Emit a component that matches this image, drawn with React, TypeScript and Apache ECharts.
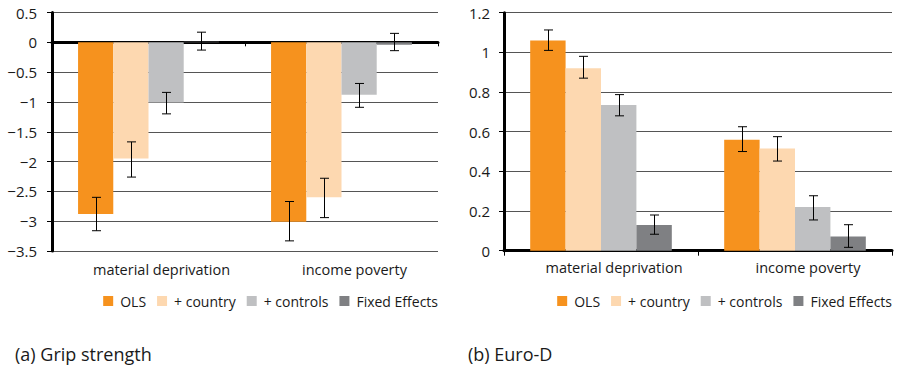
import React, { useEffect, useRef } from "react";
import * as echarts from "echarts";

const categories = ["material deprivation", "income poverty"];
const seriesNames = ["OLS", "+ country", "+ controls", "Fixed Effects"];
const colors = ["#F6921E", "#FDD8B0", "#BFC0C2", "#7F8083"];

// Panel (a) Grip strength: per series [material deprivation, income poverty]
const gripValues = [
  [-2.88, -3.01],
  [-1.95, -2.6],
  [-1.01, -0.88],
  [0.01, -0.04],
];
const gripLow = [
  [-3.16, -3.33],
  [-2.26, -2.94],
  [-1.2, -1.09],
  [-0.13, -0.14],
];
const gripHigh = [
  [-2.6, -2.67],
  [-1.67, -2.28],
  [-0.84, -0.69],
  [0.17, 0.15],
];

// Panel (b) Euro-D
const euroValues = [
  [1.06, 0.56],
  [0.92, 0.515],
  [0.735, 0.22],
  [0.13, 0.072],
];
const euroLow = [
  [1.01, 0.5],
  [0.87, 0.452],
  [0.68, 0.155],
  [0.083, 0.017],
];
const euroHigh = [
  [1.113, 0.625],
  [0.98, 0.575],
  [0.787, 0.277],
  [0.18, 0.131],
];

const captions = ["(a) Grip strength", "(b) Euro-D"];

const FONT = "'Open Sans', 'Noto Sans', sans-serif";
const TEXT = "#1a1a1a";
const GRID = "#555555";
const CAT_GAP = 0.27;

function errorData(low: number[][], high: number[][]) {
  const out: number[][] = [];
  low.forEach((row, s) => {
    row.forEach((lo, c) => {
      out.push([c, lo, high[s][c], s]);
    });
  });
  return out;
}

function renderError(params: any, api: any) {
  const c = api.value(0);
  const s = api.value(3);
  const band = api.size([1, 0])[0];
  const bw = (band * (1 - CAT_GAP)) / 4;
  const base = api.coord([c, api.value(1)]);
  const top = api.coord([c, api.value(2)]);
  const x = Math.round(base[0] + (s - 1.5) * bw) + 0.5;
  const y1 = base[1];
  const y2 = top[1];
  const cap = 4.5;
  const style = { stroke: "#000", lineWidth: 1 };
  return {
    type: "group",
    children: [
      { type: "line", shape: { x1: x, y1: y1, x2: x, y2: y2 }, style },
      { type: "line", shape: { x1: x - cap, y1: y1, x2: x + cap, y2: y1 }, style },
      { type: "line", shape: { x1: x - cap, y1: y2, x2: x + cap, y2: y2 }, style },
    ],
  };
}

function gripFormatter(v: number) {
  return String(v).replace("-", "\u2212");
}

export default function App() {
  const ref = useRef<HTMLDivElement>(null);

  useEffect(() => {
    if (!ref.current) return;
    const chart = echarts.init(ref.current, undefined, { renderer: "svg" });

    const barSeries = (values: number[][], xIdx: number, yIdx: number) =>
      values.map((vals, s) => ({
        type: "bar",
        name: seriesNames[s],
        xAxisIndex: xIdx,
        yAxisIndex: yIdx,
        data: vals,
        barGap: "0%",
        barCategoryGap: CAT_GAP * 100 + "%",
        itemStyle: { color: colors[s] },
        emphasis: { disabled: true },
      }));

    const axisLabelStyle = { fontFamily: FONT, color: TEXT };
    const catLabel = { ...axisLabelStyle, fontSize: 14.5, padding: [0, 0, 0, 26] };

    const legendBase = {
      data: seriesNames,
      top: 294,
      padding: 0,
      icon: "rect",
      itemWidth: 10,
      itemHeight: 10,
      itemGap: 11,
      textStyle: { fontFamily: FONT, fontSize: 14, color: TEXT, padding: [0, 0, 0, 2] },
      selectedMode: false,
    };

    const option: any = {
      animation: false,
      color: colors,
      grid: [
        { left: 52, right: 460, top: 12.5, bottom: 114 },
        { left: 504, right: 6, top: 12.7, bottom: 114.3 },
      ],
      xAxis: [
        {
          type: "category",
          gridIndex: 0,
          position: "bottom",
          data: categories,
          axisLine: { onZero: true, lineStyle: { color: "#000", width: 3 } },
          axisTick: { show: true, length: 4, lineStyle: { color: "#000", width: 1 } },
          axisLabel: { show: false },
          splitLine: { show: false },
        },
        {
          type: "category",
          gridIndex: 0,
          position: "bottom",
          data: categories,
          axisLine: { show: false, onZero: false },
          axisTick: { show: false },
          axisLabel: { ...catLabel, margin: 11 },
          splitLine: { show: false },
        },
        {
          type: "category",
          gridIndex: 1,
          position: "bottom",
          data: categories,
          axisLine: { onZero: true, lineStyle: { color: "#000", width: 3 } },
          axisTick: { show: true, length: 5, lineStyle: { color: "#000", width: 1 } },
          axisLabel: { ...catLabel, margin: 9 },
          splitLine: { show: false },
        },
      ],
      yAxis: [
        {
          type: "value",
          gridIndex: 0,
          min: -3.5,
          max: 0.5,
          interval: 0.5,
          axisLine: { show: true, onZero: false, lineStyle: { color: "#000", width: 3 } },
          axisTick: { show: true, length: 5, lineStyle: { color: "#000", width: 1 } },
          axisLabel: { ...axisLabelStyle, fontSize: 15, margin: 15, formatter: gripFormatter },
          splitLine: { show: true, lineStyle: { color: GRID, width: 1 } },
        },
        {
          type: "value",
          gridIndex: 1,
          min: 0,
          max: 1.2,
          interval: 0.2,
          axisLine: { show: true, onZero: false, lineStyle: { color: "#000", width: 3 } },
          axisTick: { show: true, length: 5, lineStyle: { color: "#000", width: 1 } },
          axisLabel: { ...axisLabelStyle, fontSize: 15, margin: 14 },
          splitLine: { show: true, lineStyle: { color: GRID, width: 1 } },
        },
      ],
      legend: [
        { ...legendBase, right: 460 },
        { ...legendBase, right: 6 },
      ],
      graphic: [
        {
          type: "text",
          x: 15,
          y: 354,
          style: {
            text: captions[0],
            fontFamily: FONT,
            fontSize: 18,
            fill: TEXT,
            verticalAlign: "middle",
            textVerticalAlign: "middle",
          },
        },
        {
          type: "text",
          x: 468,
          y: 354,
          style: {
            text: captions[1],
            fontFamily: FONT,
            fontSize: 18,
            fill: TEXT,
            verticalAlign: "middle",
            textVerticalAlign: "middle",
          },
        },
      ],
      series: [
        ...barSeries(gripValues, 0, 0),
        ...barSeries(euroValues, 2, 1),
        {
          type: "custom",
          name: "errA",
          xAxisIndex: 0,
          yAxisIndex: 0,
          z: 5,
          renderItem: renderError,
          encode: { x: 0, y: [1, 2] },
          data: errorData(gripLow, gripHigh),
        },
        {
          type: "custom",
          name: "errB",
          xAxisIndex: 2,
          yAxisIndex: 1,
          z: 5,
          renderItem: renderError,
          encode: { x: 0, y: [1, 2] },
          data: errorData(euroLow, euroHigh),
        },
      ],
    };

    chart.setOption(option);
    return () => chart.dispose();
  }, []);

  return (
    <div
      ref={ref}
      style={{ position: "absolute", left: 0, top: 0, width: 898, height: 365, background: "#fff" }}
    />
  );
}
